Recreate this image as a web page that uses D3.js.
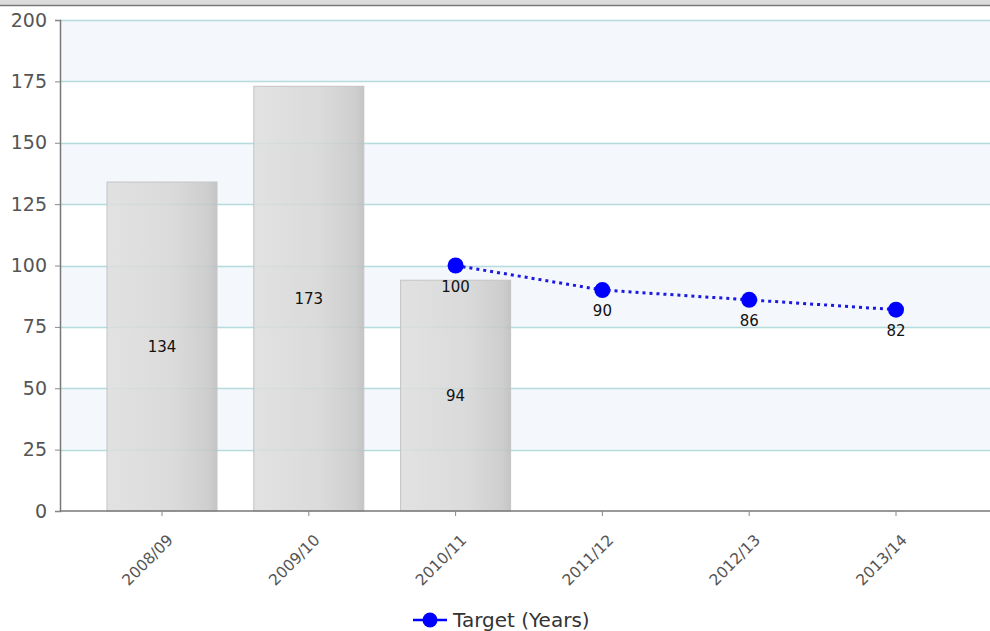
<!DOCTYPE html>
<html>
<head>
<meta charset="utf-8">
<script src="https://cdn.jsdelivr.net/npm/d3@7"></script>
<style>
  body { margin: 0; background: #fff; }
  svg { display: block; font-family: Tahoma, "DejaVu Sans", Verdana, sans-serif; }
</style>
</head>
<body>
<script>
const years = ['2008/09', '2009/10', '2010/11', '2011/12', '2012/13', '2013/14'];
const actual = [134, 173, 94, null, null, null];
const target = [null, null, 100, 90, 86, 82];
const yTicks = [0, 25, 50, 75, 100, 125, 150, 175, 200];
const seriesName = 'Target (Years)';

const width = 990;
const height = 631;
const margin = { top: 20, right: 0, bottom: 120, left: 60 };

const svg = d3.select('body').append('svg')
  .attr('width', width)
  .attr('height', height);

const defs = svg.append('defs');
const grad = defs.append('linearGradient').attr('id', 'barGrad')
  .attr('x1', '0%').attr('x2', '100%').attr('y1', '0%').attr('y2', '0%');
grad.append('stop').attr('offset', '0%').attr('stop-color', '#dedede');
grad.append('stop').attr('offset', '60%').attr('stop-color', '#d6d6d6');
grad.append('stop').attr('offset', '92%').attr('stop-color', '#c8c8c8');
grad.append('stop').attr('offset', '100%').attr('stop-color', '#bdbdbd');

// top strip
svg.append('rect').attr('x', 0).attr('y', 0).attr('width', width).attr('height', 5).attr('fill', '#dcdcdc');
svg.append('line').attr('x1', 0).attr('x2', width).attr('y1', 5.5).attr('y2', 5.5).attr('stroke', '#777').attr('stroke-width', 1.5);

const y = d3.scaleLinear().domain([0, 200]).range([511, 20]);
const x = d3.scaleBand().domain(years).range([88.6, 969.4]).paddingInner(0.25).paddingOuter(0.125);
const cx = d => x(d) + x.bandwidth() / 2;

// alternating stripes
const stripes = yTicks.slice(0, -1).filter((d, i) => i % 2 === 1);
svg.append('g').selectAll('rect')
  .data(stripes)
  .join('rect')
    .attr('x', margin.left)
    .attr('width', width - margin.left)
    .attr('y', d => y(d + 25))
    .attr('height', d => y(d) - y(d + 25))
    .attr('fill', '#f4f7fc');

// grid lines
svg.append('g').selectAll('line')
  .data(yTicks.filter(d => d > 0))
  .join('line')
    .attr('x1', margin.left)
    .attr('x2', width)
    .attr('y1', d => Math.round(y(d)) + 0.5)
    .attr('y2', d => Math.round(y(d)) + 0.5)
    .attr('stroke', '#b5dcdc')
    .attr('stroke-width', 1.5);

// bars
const barData = years.map((d, i) => ({ year: d, value: actual[i] })).filter(d => d.value != null);
svg.append('g').selectAll('rect')
  .data(barData)
  .join('rect')
    .attr('x', d => cx(d.year) - 55)
    .attr('width', 110)
    .attr('y', d => y(d.value))
    .attr('height', d => y(0) - y(d.value))
    .attr('fill', 'url(#barGrad)')
    .attr('fill-opacity', 0.88)
    .attr('stroke', '#c4c4c4')
    .attr('stroke-width', 1);

svg.append('g').selectAll('text')
  .data(barData)
  .join('text')
    .attr('x', d => cx(d.year))
    .attr('y', d => y(d.value / 2) + 5)
    .attr('text-anchor', 'middle')
    .attr('font-size', 15)
    .attr('fill', '#111')
    .text(d => d.value);

// axes
const yAxis = svg.append('g')
  .attr('transform', `translate(${margin.left},0)`)
  .call(d3.axisLeft(y).tickValues(yTicks).tickSize(5).tickPadding(8));
yAxis.select('.domain').attr('stroke', '#777').attr('stroke-width', 1.5);
yAxis.selectAll('.tick line').attr('stroke', '#888');
yAxis.selectAll('.tick text').attr('font-size', 19).attr('fill', '#555')
  .attr('font-family', 'Tahoma, "DejaVu Sans", sans-serif');

const xAxis = svg.append('g')
  .attr('transform', `translate(0,${y(0)})`)
  .call(d3.axisBottom(x).tickSize(5).tickSizeOuter(0));
xAxis.select('.domain').attr('d', `M${margin.left},0H${width}`).attr('stroke', '#777').attr('stroke-width', 1.5);
xAxis.selectAll('.tick line').attr('stroke', '#888');
xAxis.selectAll('.tick text')
  .attr('font-size', 15.5)
  .attr('fill', '#555')
  .attr('font-family', 'Tahoma, "DejaVu Sans", sans-serif')
  .attr('text-anchor', 'end')
  .attr('dy', null)
  .attr('y', 0)
  .attr('transform', 'translate(12,30) rotate(-45)');

// target line
const lineData = years.map((d, i) => ({ year: d, value: target[i] })).filter(d => d.value != null);
const line = d3.line().x(d => cx(d.year)).y(d => y(d.value));
svg.append('path')
  .datum(lineData)
  .attr('d', line)
  .attr('fill', 'none')
  .attr('stroke', '#1a1ae0')
  .attr('stroke-width', 3)
  .attr('stroke-dasharray', '3,4');

svg.append('g').selectAll('circle')
  .data(lineData)
  .join('circle')
    .attr('cx', d => cx(d.year))
    .attr('cy', d => y(d.value))
    .attr('r', 8)
    .attr('fill', '#0000ff');

svg.append('g').selectAll('text')
  .data(lineData)
  .join('text')
    .attr('x', d => cx(d.year))
    .attr('y', d => y(d.value) + 26)
    .attr('text-anchor', 'middle')
    .attr('font-size', 15)
    .attr('fill', '#111')
    .text(d => d.value);

// legend
const legend = svg.append('g').attr('transform', 'translate(413,620)');
legend.append('line').attr('x1', 0).attr('x2', 34).attr('y1', 0).attr('y2', 0)
  .attr('stroke', '#0000ff').attr('stroke-width', 2.5);
legend.append('circle').attr('cx', 17).attr('cy', 0).attr('r', 7.5).attr('fill', '#0000ff');
legend.append('text').attr('x', 40).attr('y', 7)
  .attr('font-size', 20).attr('fill', '#333').text(seriesName);
</script>
</body>
</html>
